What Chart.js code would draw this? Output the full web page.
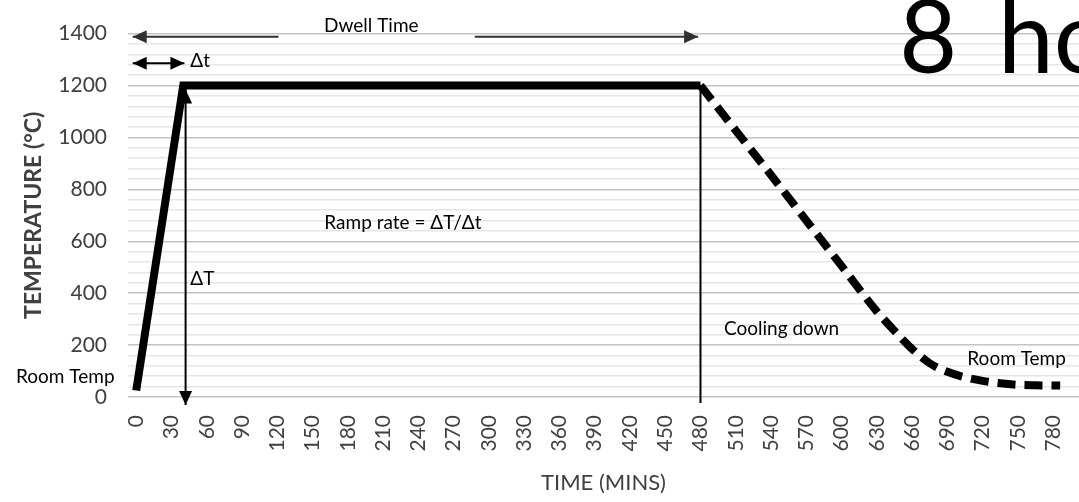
<!DOCTYPE html>
<html>
<head>
<meta charset="utf-8">
<script src="https://cdn.jsdelivr.net/npm/chart.js@4.4.0/dist/chart.umd.min.js"></script>
<style>
  html, body { margin: 0; padding: 0; background: #fff; }
  #wrap { width: 1079px; height: 502px; }
</style>
</head>
<body>
<div id="wrap"><canvas id="chart"></canvas></div>
<script>
// Heating: ramp from room temp, then hold
const heatTimes = [0, 40, 480];
const heatTemps = [25, 1200, 1200];

// Cooling back to room temp
const coolTimes = [480, 510, 540, 570, 600, 630, 645, 660, 675, 690, 705, 720, 735, 750, 765, 786];
const coolTemps = [1200, 1027, 855, 680, 505, 330, 255, 185, 130, 97, 76, 62, 53, 47, 45, 44];

// Axis labels
const timeTicks = [0, 30, 60, 90, 120, 150, 180, 210, 240, 270, 300, 330, 360, 390, 420, 450,
                   480, 510, 540, 570, 600, 630, 660, 690, 720, 750, 780];
const tempTicks = [0, 200, 400, 600, 800, 1000, 1200, 1400];

const FONT = "Lato, 'Open Sans', sans-serif";
const GREY = '#404040';

function arrowHead(ctx, x1, y1, x2, y2) {
  // filled triangle pointing at (x2, y2)
  const a = Math.atan2(y2 - y1, x2 - x1);
  const len = 14, half = 6.5;
  ctx.beginPath();
  ctx.moveTo(x2, y2);
  ctx.lineTo(x2 - len * Math.cos(a) + half * Math.sin(a), y2 - len * Math.sin(a) - half * Math.cos(a));
  ctx.lineTo(x2 - len * Math.cos(a) - half * Math.sin(a), y2 - len * Math.sin(a) + half * Math.cos(a));
  ctx.closePath();
  ctx.fill();
}

function arrow(ctx, x1, y1, x2, y2, startHead, endHead, color, width) {
  ctx.save();
  ctx.strokeStyle = color;
  ctx.fillStyle = color;
  ctx.lineWidth = width;
  ctx.beginPath();
  ctx.moveTo(x1, y1);
  ctx.lineTo(x2, y2);
  ctx.stroke();
  if (startHead) arrowHead(ctx, x2, y2, x1, y1);
  if (endHead) arrowHead(ctx, x1, y1, x2, y2);
  ctx.restore();
}

// Arrows and text notes on top of the profile
const notes = {
  id: 'notes',
  afterDatasetsDraw(chart) {
    const ctx = chart.ctx;
    const px = v => chart.scales.x.getPixelForValue(v);
    const py = v => chart.scales.y.getPixelForValue(v);

    // dwell time span
    arrow(ctx, px(121), py(1388), px(-3), py(1388), false, true, '#303030', 2);
    arrow(ctx, px(288), py(1388), px(478), py(1388), false, true, '#303030', 2);
    // ramp time
    arrow(ctx, px(-3), py(1286), px(41), py(1286), true, true, '#000', 2);
    // temperature rise
    arrow(ctx, px(42), py(1185), px(42), py(-31), true, true, '#000', 2);
    // end of dwell
    arrow(ctx, px(480), py(1200), px(480), py(-23), false, false, '#000', 2);

    ctx.save();
    ctx.fillStyle = '#000';
    ctx.font = '19px ' + FONT;
    ctx.textBaseline = 'middle';
    ctx.textAlign = 'center';
    ctx.fillText('Dwell Time', px(200), py(1431));
    ctx.textAlign = 'left';
    ctx.fillText('Δt', px(46), py(1293));
    ctx.fillText('Ramp rate = ΔT/Δt', px(160), py(671));
    ctx.fillText('ΔT', px(46), py(456));
    ctx.fillText('Cooling down', px(500), py(261));
    ctx.fillText('Room Temp', px(707), py(146));
    ctx.fillText('Room Temp', 16, py(77));

    ctx.font = '100px ' + FONT;
    ctx.textBaseline = 'alphabetic';
    ctx.fillText('8', px(649), py(1247));
    ctx.fillText('hours', px(733), py(1247));
    ctx.restore();
  }
};

new Chart(document.getElementById('chart'), {
  type: 'line',
  plugins: [notes],
  data: {
    datasets: [
      {
        data: heatTimes.map((t, i) => ({ x: t, y: heatTemps[i] })),
        borderColor: '#000',
        borderWidth: 8,
        borderJoinStyle: 'miter',
        borderCapStyle: 'butt',
        pointRadius: 0,
        tension: 0
      },
      {
        data: coolTimes.map((t, i) => ({ x: t, y: coolTemps[i] })),
        borderColor: '#000',
        borderWidth: 8,
        borderDash: [18, 9],
        borderCapStyle: 'butt',
        cubicInterpolationMode: 'monotone',
        pointRadius: 0
      }
    ]
  },
  options: {
    responsive: true,
    maintainAspectRatio: false,
    animation: false,
    layout: { padding: { top: 32, right: 0, left: 0, bottom: 0 } },
    plugins: {
      legend: { display: false },
      tooltip: { enabled: false }
    },
    scales: {
      x: {
        type: 'linear',
        min: -7,
        max: 802,
        afterBuildTicks: axis => { axis.ticks = timeTicks.map(v => ({ value: v })); },
        afterFit: axis => {
          axis.height = 105;
          axis.paddingLeft = 0;
          axis.paddingRight = 0;
        },
        grid: { display: false, drawTicks: false },
        border: { display: false },
        ticks: {
          minRotation: 90,
          maxRotation: 90,
          autoSkip: false,
          padding: 18,
          color: GREY,
          font: { family: FONT, size: 21 }
        },
        title: {
          display: true,
          text: 'TIME (MINS)',
          color: GREY,
          font: { family: FONT, size: 22 },
          padding: { top: 0, bottom: 6 }
        }
      },
      y: {
        min: 0,
        max: 1400,
        afterFit: axis => { axis.width = 128; },
        grid: {
          drawTicks: false,
          lineWidth: 1.5,
          color: c => (c.tick && c.tick.value % 200 === 0) ? '#c4c4c4' : '#e6e6e6'
        },
        border: { display: false },
        ticks: {
          stepSize: 40,
          autoSkip: false,
          padding: 21,
          color: GREY,
          font: { family: FONT, size: 21 },
          callback: v => tempTicks.includes(v) ? v : ''
        },
        title: {
          display: true,
          text: 'TEMPERATURE (°C)',
          color: GREY,
          font: { family: FONT, size: 23, weight: 'bold' },
          padding: { top: 20, bottom: 0 }
        }
      }
    }
  }
});
</script>
</body>
</html>
